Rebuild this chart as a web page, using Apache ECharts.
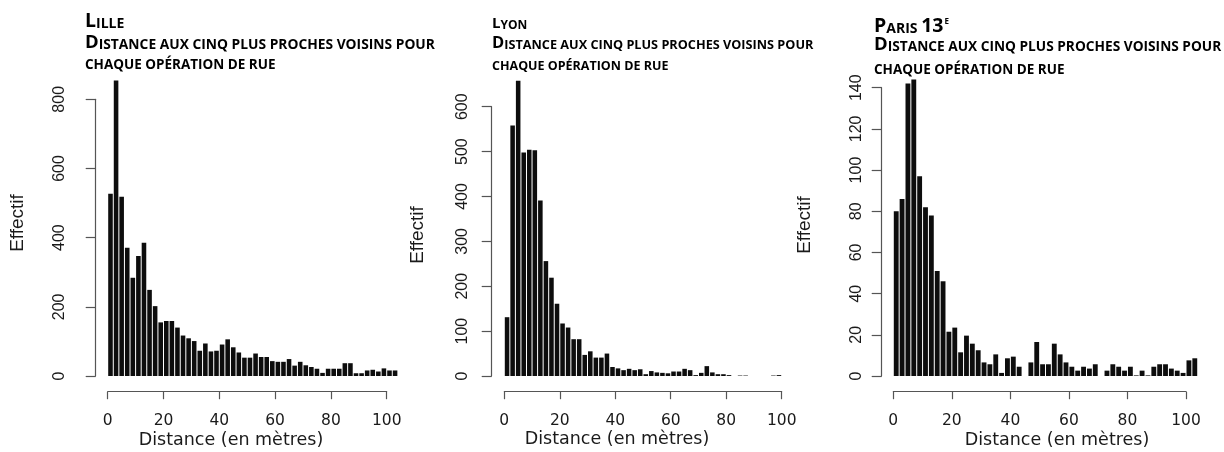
<!DOCTYPE html>
<html><head><meta charset="utf-8">
<script src="https://cdn.jsdelivr.net/npm/echarts@6/dist/echarts.min.js"></script>
<style>html,body{margin:0;padding:0;background:#fff}#c{width:1224px;height:452px}</style>
</head><body><div id="c"></div>
<script>
// ---- data ----
const binEdges = [0,2,4,6,8,10,12,14,16,18,20,22,24,26,28,30,32,34,36,38,40,42,44,46,48,50,52,54,56,58,60,62,64,66,68,70,72,74,76,78,80,82,84,86,88,90,92,94,96,98,100,102,104];
const lilleCounts = [527,854,518,371,284,347,385,249,202,155,159,159,140,117,109,101,73,94,71,73,91,106,
  83,68,53,53,65,55,55,43,41,41,49,30,41,31,26,21,9,21,21,21,37,37,8,8,16,18,13,22,16,16];
const lyonCounts = [131,558,658,498,504,503,391,256,219,161,117,108,82,82,47,55,41,41,50,20,
  17,13,16,13,15,4,11,8,7,6,10,10,16,13,2,7,22,8,4,4,2,0,1,1,0,0,0,0,1,2,0,0];
const parisCounts = [80,86,142,144,97,82,78,51,46,21.5,23.5,11.5,19.6,15.7,12.5,6.6,5.7,10.5,1.5,
  8.6,9.4,4.5,0,6.6,16.5,5.7,5.7,15.7,10.5,6.6,4.5,2.6,4.5,3.6,5.7,0,2.6,5.7,4.5,
  2.6,4.5,0.3,2.6,0.3,4.5,5.7,5.7,3.6,2.6,1.5,7.6,8.6];
const xTicks = [0,20,40,60,80,100];
const lilleYTicks = [0,200,400,600,800];
const lyonYTicks = [0,100,200,300,400,500,600];
const parisYTicks = [0,20,40,60,80,100,120,140];
const titleLille = ['L','ILLE'];
const titleLyon = ['L','YON'];
const titleParis = ['P','ARIS','13','E'];
const subtitle1 = ['D','ISTANCE AUX CINQ PLUS PROCHES VOISINS POUR'];
const subtitle2 = 'CHAQUE OPÉRATION DE RUE';
const xAxisTitle = 'Distance (en mètres)';
const yAxisTitle = 'Effectif';

// ---- layout ----
const panels = [
  {counts: lilleCounts, yTicks: lilleYTicks, left: 107.7, top: 99.3, width: 279, height: 276.7, yOff: 12, yMargin: 28,
   yName: [18, 223], xName: [231, 440]},
  {counts: lyonCounts, yTicks: lyonYTicks, left: 504.3, top: 106.7, width: 277.4, height: 269.3, yOff: 12.6, yMargin: 21,
   yName: [418, 235], xName: [617, 439]},
  {counts: parisCounts, yTicks: parisYTicks, left: 893.3, top: 87.7, width: 292.7, height: 288.3, yOff: 11.6, yMargin: 17,
   yName: [805, 225], xName: [1057, 440]}
];
const axisColor = '#555';
const textColor = '#1a1a1a';
const titleFont = '"Open Sans", "DejaVu Sans", sans-serif';

const chart = echarts.init(document.getElementById('c'), null, {renderer: 'canvas'});

const grids = [], xAxes = [], yAxes = [], series = [], graphics = [];
panels.forEach((p, i) => {
  grids.push({left: p.left, top: p.top, width: p.width, height: p.height, outerBoundsMode: 'none', containLabel: false});
  xAxes.push({
    type: 'value', gridIndex: i, min: xTicks[0], max: xTicks[xTicks.length - 1], interval: xTicks[1] - xTicks[0],
    offset: 15.7,
    axisLine: {show: true, onZero: false, lineStyle: {color: axisColor, width: 1.2}},
    axisTick: {show: true, length: 7.5, lineStyle: {color: axisColor, width: 1.2}},
    axisLabel: {margin: 21, fontFamily: '"DejaVu Sans", sans-serif', fontSize: 15.5, color: textColor, showMinLabel: true, showMaxLabel: true},
    splitLine: {show: false}
  });
  const yt = p.yTicks;
  yAxes.push({
    type: 'value', gridIndex: i, min: yt[0], max: yt[yt.length - 1], interval: yt[1] - yt[0],
    offset: p.yOff,
    axisLine: {show: true, onZero: false, lineStyle: {color: axisColor, width: 1.2}},
    axisTick: {show: true, length: 10, lineStyle: {color: axisColor, width: 1.2}},
    axisLabel: {rotate: 90, margin: p.yMargin, fontFamily: '"Liberation Sans", Arial, sans-serif', fontSize: 16, color: textColor, showMinLabel: true, showMaxLabel: true, hideOverlap: false},
    splitLine: {show: false}
  });
  series.push({
    type: 'custom', xAxisIndex: i, yAxisIndex: i, clip: false, silent: true,
    encode: {x: [0, 1], y: 2},
    data: p.counts.map((c, k) => [binEdges[k], binEdges[k + 1], c]),
    renderItem: function (params, api) {
      const v = api.value(2);
      if (!v) return null;
      const a = api.coord([api.value(0), v]);
      const b = api.coord([api.value(1), 0]);
      return {type: 'rect', shape: {x: a[0] + 0.5, y: a[1], width: b[0] - a[0] - 1, height: b[1] - a[1]},
        style: {fill: '#0d0d0d'}};
    }
  });
  graphics.push({type: 'text', x: p.yName[0], y: p.yName[1], rotation: Math.PI / 2,
    style: {text: yAxisTitle, fontFamily: '"Liberation Sans", Arial, sans-serif', fontSize: 19, fill: textColor, align: 'center', verticalAlign: 'middle'}});
  graphics.push({type: 'text', x: p.xName[0], y: p.xName[1],
    style: {text: xAxisTitle, fontFamily: '"DejaVu Sans", sans-serif', fontSize: 17.5, fill: textColor, align: 'center', verticalAlign: 'middle'}});
});

// titles: small-caps lines built with rich text
function capsLine(x, baseline, big, small, parts) {
  const rich = {
    b: {fontFamily: titleFont, fontWeight: 'bold', fontSize: big, lineHeight: big, verticalAlign: 'bottom', color: '#111'},
    s: {fontFamily: titleFont, fontWeight: 'bold', fontSize: small, lineHeight: 0.43 * big + 0.57 * small, verticalAlign: 'bottom', color: '#111'},
    sup: {fontFamily: titleFont, fontWeight: 'bold', fontSize: Math.round(small * 0.55), lineHeight: big, verticalAlign: 'top', color: '#111', padding: [1, 0, 0, 1]}
  };
  const text = parts.map(([t, k]) => '{' + k + '|' + t + '}').join('');
  return {type: 'text', x: x, y: baseline + 0.215 * big,
    style: {text: text, rich: rich, verticalAlign: 'bottom', align: 'left'}};
}
// Lille
graphics.push(capsLine(85, 27.3, 19.5, 14, [[titleLille[0], 'b'], [titleLille[1], 's']]));
graphics.push(capsLine(85, 48.3, 18.5, 13.8, [[subtitle1[0], 'b'], [subtitle1[1], 's']]));
graphics.push(capsLine(85, 69, 13.5, 13.5, [[subtitle2, 's']]));
// Lyon
graphics.push(capsLine(492, 28.3, 15, 12, [[titleLyon[0], 'b'], [titleLyon[1], 's']]));
graphics.push(capsLine(492, 48.3, 16.5, 12.7, [[subtitle1[0], 'b'], [subtitle1[1], 's']]));
graphics.push(capsLine(492, 70, 12.5, 12.5, [[subtitle2, 's']]));
// Paris
graphics.push(capsLine(874, 32, 19.5, 14, [[titleParis[0], 'b'], [titleParis[1] + ' ', 's'], [titleParis[2], 'b'], [titleParis[3], 'sup']]));
graphics.push(capsLine(874, 50.5, 18.5, 13.7, [[subtitle1[0], 'b'], [subtitle1[1], 's']]));
graphics.push(capsLine(874, 74, 13.5, 13.5, [[subtitle2, 's']]));

chart.setOption({
  animation: false,
  backgroundColor: '#fff',
  grid: grids,
  xAxis: xAxes,
  yAxis: yAxes,
  series: series,
  graphic: graphics
});
</script>
</body></html>
